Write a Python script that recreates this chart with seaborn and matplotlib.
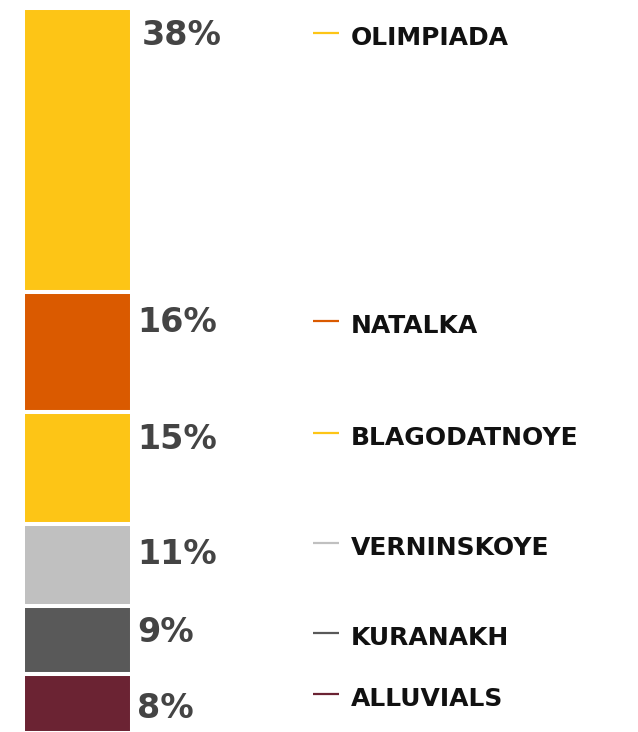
import pandas as pd
import matplotlib
matplotlib.use("Agg")
import matplotlib.pyplot as plt
import matplotlib.transforms as mtransforms
import seaborn as sns

# share of production by mine, top to bottom
mines = ["OLIMPIADA", "NATALKA", "BLAGODATNOYE", "VERNINSKOYE", "KURANAKH", "ALLUVIALS"]
shares = [38, 16, 15, 11, 9, 8]
colors = ["#FDC516", "#DA5A00", "#FDC516", "#C0C0C0", "#595959", "#6B2333"]

# layout: baseline offsets (pixels below each segment top)
label_dy = [37, 40, 37, 40, 36, 44]
legend_dy = [37, 41, 33, 31, 39, 32]

df = pd.DataFrame({"mine": mines, "share": shares})
df["top"] = df["share"].cumsum() - df["share"]

sns.set_theme(style="white")
plt.rcParams["font.family"] = ["DejaVu Sans"]

fig = plt.figure(figsize=(6.38, 7.32), dpi=100)
ax = fig.add_axes([0, 0, 1, 1])

for i, row in df.iterrows():
    sns.barplot(x=[0], y=[row["share"]], bottom=row["top"], color=colors[i],
                width=0.8, saturation=1, edgecolor="white", linewidth=2.9,
                errorbar=None, ax=ax)

ax.set_xlim(-0.569, 4.113)
ax.set_ylim(96.8, -1.07)
ax.axis("off")

blend = mtransforms.blended_transform_factory(ax.transAxes, ax.transData)

for i, row in df.iterrows():
    dx = 10 if i == 0 else 5
    ax.annotate(f"{row['share']}%", xy=(0.4, row["top"]), xycoords="data",
                xytext=(dx, -label_dy[i]), textcoords="offset pixels",
                ha="left", va="baseline", fontsize=24, fontweight="bold",
                color="#444444")

    ax.annotate(row["mine"], xy=(351 / 638, row["top"]), xycoords=blend,
                xytext=(0, -legend_dy[i]), textcoords="offset pixels",
                ha="left", va="baseline", fontsize=18, fontweight="bold",
                color="#111111")
    line_tr = mtransforms.offset_copy(blend, fig=fig, x=0, y=-(legend_dy[i] - 12),
                                      units="dots")
    ax.plot([313 / 638, 339 / 638], [row["top"], row["top"]], color=colors[i],
            lw=1.6, transform=line_tr, solid_capstyle="butt")

fig.savefig("out.png", dpi=100)
